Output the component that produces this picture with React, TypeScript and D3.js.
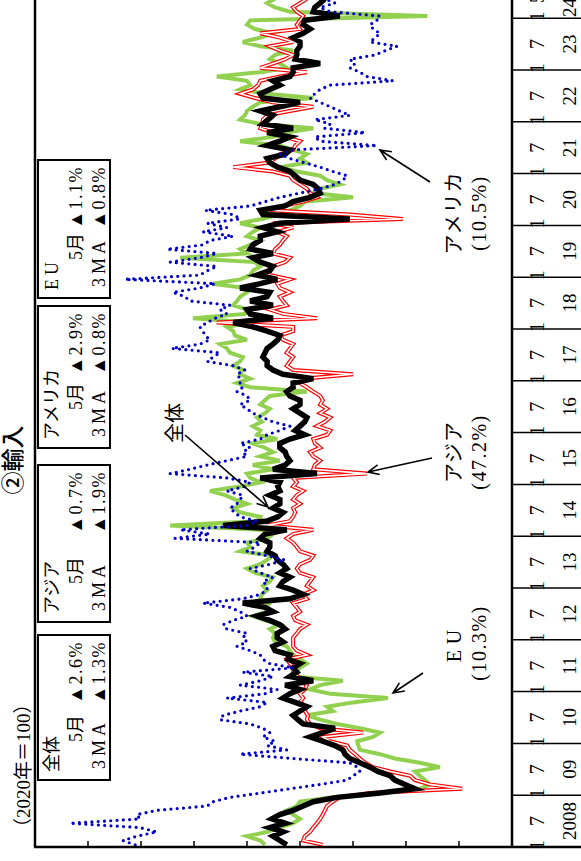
import React from "react";
import * as d3 from "d3";

// ---- data (2020 = 100), monthly from 2008-01 to 2024-05 ----
const yearLabels = ["2008","09","10","11","12","13","14","15","16","17","18","19","20","21","22","23","24"];
const monthLabels = ["1", "7"];
const lastYearMonthLabels = ["1", "5"];
const valueTicks = [70, 80, 90, 100, 110, 120, 130, 140];

const totalIdx = [
  102.5,103.8,105.1,103.2,105.7,102.8,105.3,103.8,101.3,99.4,97.5,93.0,
  84.9,78.3,80.2,82.1,83.0,85.3,86.8,88.7,90.6,91.5,91.9,93.4,
  95.7,98.1,95.7,93.4,99.4,100.4,101.3,100.0,98.7,100.9,103.2,101.9,
  100.0,102.8,97.5,101.9,100.6,101.3,100.0,102.3,101.9,104.7,105.1,103.2,
  104.3,104.3,102.8,103.8,105.7,108.1,105.1,106.6,110.8,101.9,99.4,101.3,
  103.8,103.2,101.9,103.8,102.5,103.2,104.3,104.7,106.2,105.7,105.7,107.5,
  106.6,102.5,114.5,106.2,104.2,103.2,105.1,103.8,103.8,105.7,103.8,104.2,
  103.8,107.5,96.8,105.1,102.8,101.9,102.5,102.8,103.8,103.8,101.9,99.1,
  100.9,100.0,99.1,98.7,100.0,101.3,100.0,100.0,101.9,102.5,101.3,101.3,
  97.5,103.2,105.1,106.2,106.2,107.0,106.6,106.2,105.1,104.2,103.8,106.2,
  108.9,112.6,105.1,109.4,110.0,105.1,109.4,106.2,105.7,111.3,107.5,104.3,
  108.1,105.7,105.1,107.5,108.9,105.1,109.4,108.9,107.5,107.5,104.3,107.0,
  103.8,90.6,107.0,107.5,102.8,101.3,98.1,96.2,96.6,97.5,100.0,100.9,
  101.9,104.2,105.7,106.2,102.8,101.9,106.2,103.8,101.9,106.2,101.3,107.0,
  106.0,105.1,107.5,103.8,100.0,107.0,107.5,105.7,103.8,105.1,101.9,101.3,
  101.3,96.2,100.9,100.6,100.6,100.0,100.0,101.3,99.4,98.1,99.4,99.1,
  92.5,97.5,97.2,96.2,95.3,
];

const asiaIdx = [
  95.7,99.4,99.1,98.1,97.5,96.8,96.2,95.7,95.3,94.9,93.8,92.5,
  86.8,69.4,75.5,78.3,79.2,83.0,86.2,87.7,88.7,89.6,90.6,91.1,
  94.3,95.7,88.1,96.2,98.1,98.7,98.5,99.1,98.7,100.0,99.4,100.0,
  99.1,98.7,100.0,100.4,101.3,100.9,101.9,102.5,98.7,100.6,101.3,101.3,
  101.3,100.6,100.0,98.7,100.9,101.3,100.0,100.6,101.3,98.7,99.4,97.5,
  98.7,98.1,97.5,100.0,100.6,100.0,98.1,97.5,100.0,100.6,101.3,102.5,
  101.3,97.5,106.2,101.9,101.3,100.9,101.3,100.0,101.3,100.6,99.4,101.3,
  100.6,101.3,87.4,97.5,97.2,96.2,97.5,98.1,96.2,97.2,97.5,94.9,
  94.3,96.8,95.3,94.3,96.2,94.9,96.2,95.7,96.2,97.5,98.7,100.0,
  99.4,90.0,101.3,102.5,101.9,101.3,102.5,101.9,101.3,103.2,103.8,101.3,
  101.3,115.7,96.8,103.2,105.7,102.5,103.2,103.8,101.9,103.8,104.3,101.9,
  105.7,106.2,105.1,102.8,101.9,105.1,104.7,103.8,103.2,102.5,104.3,101.3,
  105.1,80.6,90.6,105.7,103.2,99.4,96.8,98.1,98.7,100.0,101.3,101.9,
  105.1,112.6,106.2,104.7,103.8,101.3,100.9,100.0,102.8,105.1,107.5,107.2,
  107.0,106.2,101.9,97.5,105.1,108.5,111.3,108.9,107.9,107.5,103.8,98.7,
  107.5,105.1,102.8,101.3,103.8,105.7,101.3,103.8,107.5,100.0,100.6,100.0,
  99.4,100.6,101.3,100.0,98.7,
];

const usIdx = [
  131.1,133.4,130.8,127.0,130.2,143.4,130.2,130.8,127.0,117.5,116.4,113.2,
  107.5,101.9,96.2,91.1,90.0,88.7,89.2,90.6,101.3,111.3,102.5,106.2,
  104.7,107.0,105.7,107.0,109.4,115.1,114.5,111.3,107.5,106.2,113.8,106.6,
  104.3,111.3,107.5,105.1,110.8,101.3,105.7,107.0,107.5,109.4,111.9,110.0,
  110.8,110.0,113.8,114.5,112.6,110.0,111.3,113.2,118.3,110.8,107.5,106.2,
  106.2,107.0,105.1,107.5,109.4,105.7,102.8,106.2,110.0,108.5,107.5,123.6,
  117.0,122.6,110.0,108.1,111.3,112.3,113.2,111.9,111.3,110.8,113.8,110.4,
  109.4,113.8,124.5,120.8,117.5,113.8,110.0,110.8,109.4,111.3,107.5,106.2,
  103.8,101.9,105.1,107.0,108.9,110.0,111.3,109.4,110.0,111.9,110.8,111.3,
  111.3,111.9,110.4,112.6,117.5,116.4,115.1,124.2,118.9,117.0,117.9,118.3,
  118.9,117.5,116.0,113.8,115.1,113.2,120.8,121.7,124.0,118.9,116.0,133.0,
  118.9,117.5,115.7,124.5,118.9,115.7,125.1,118.3,117.0,112.6,118.3,113.8,
  117.5,111.3,112.6,117.9,109.4,106.6,103.8,100.0,96.2,93.4,91.9,91.1,
  93.8,96.2,99.1,101.9,103.8,101.3,85.5,96.2,97.2,87.7,95.3,94.3,
  97.2,90.6,92.5,94.3,96.2,98.1,97.2,96.2,94.3,82.5,87.4,88.7,
  90.6,89.6,90.6,85.8,83.9,81.7,86.8,85.8,84.9,86.2,86.8,85.5,
  84.9,94.3,96.2,93.4,95.3,
];

const euIdx = [
  106.6,107.5,110.0,106.2,103.8,101.3,100.0,101.3,102.5,100.6,100.0,93.8,
  84.9,77.4,75.5,76.4,77.4,78.3,73.6,77.4,82.1,84.9,88.7,89.0,
  89.2,86.2,84.9,88.7,93.0,96.2,98.7,93.8,94.9,90.0,83.4,94.3,
  98.1,96.2,91.9,101.3,100.9,100.0,98.7,100.0,101.3,101.9,102.5,104.7,
  105.1,104.7,105.7,103.8,106.6,108.9,106.2,106.6,105.7,107.5,107.2,106.2,
  107.0,105.7,105.1,108.5,110.0,107.5,106.2,105.1,111.3,109.4,110.0,106.2,
  105.1,107.5,124.5,108.1,107.5,111.3,112.6,110.0,112.3,114.1,117.0,111.3,
  107.5,109.4,110.0,105.1,108.9,103.8,107.5,105.1,106.6,108.9,104.3,108.1,
  107.5,108.9,107.2,108.1,106.6,105.7,107.5,106.6,105.7,98.7,109.4,111.9,
  109.4,111.3,110.8,112.6,111.3,110.8,113.2,113.8,115.1,110.0,112.3,112.6,
  113.8,108.9,120.2,110.4,110.0,112.6,111.9,111.3,110.0,110.4,116.4,111.3,
  109.4,108.9,107.5,108.5,122.6,110.0,111.3,109.4,107.5,110.0,108.9,107.5,
  111.3,107.2,103.8,101.9,100.0,99.1,90.0,97.5,96.2,92.5,94.9,96.2,
  100.6,103.8,98.7,100.0,98.7,101.3,103.8,111.3,105.1,102.5,97.5,107.5,
  111.3,110.4,110.0,108.9,107.5,97.5,106.2,111.3,109.4,110.0,115.7,107.5,
  102.5,103.8,105.7,104.7,101.3,107.5,110.8,107.5,105.1,108.5,110.0,109.4,
  76.0,101.9,104.7,106.2,104.7,
];

const boxNames = ["全体", "アジア", "アメリカ", "EU"];
const boxMay = ["▲2.6%", "▲0.7%", "▲2.9%", "▲1.1%"];
const box3MA = ["▲1.3%", "▲1.9%", "▲0.8%", "▲0.8%"];

const calloutNames = ["EU", "アジア", "アメリカ"];
const calloutShares = ["(10.3%)", "(47.2%)", "(10.5%)"];

const SERIF = "'Liberation Serif', 'DejaVu Serif', 'Noto Sans CJK JP', serif";
const JP = "'Noto Sans CJK JP', sans-serif";

function arrowPath(x1: number, y1: number, x2: number, y2: number) {
  const a = Math.atan2(y2 - y1, x2 - x1);
  const L = 12, s = 0.42;
  return `M${x1},${y1}L${x2},${y2}` +
    `M${x2 - L * Math.cos(a - s)},${y2 - L * Math.sin(a - s)}L${x2},${y2}` +
    `L${x2 - L * Math.cos(a + s)},${y2 - L * Math.sin(a + s)}`;
}

export default function App() {
  // Chart is drawn in its own upright frame (861 wide x 581 tall), then rotated -90deg.
  const W = 861, H = 581;
  const left = 14, top = 35, bottom = 512;
  const yearW = 51.8;
  const nMonths = totalIdx.length;
  const x = d3.scaleLinear().domain([0, 12]).range([left, left + yearW]); // months since 2008-01
  const y = d3.scaleLinear().domain([60, 150]).range([bottom, top]);
  const line = d3.line<number>().x((_, i) => x(i + 0.5)).y((d) => y(d));

  const boxes: [number, number][] = [[81, 226], [239, 396], [413, 555], [563, 701]];
  const callouts = [
    { cx: 218, arrow: [188, 423, 168, 393] },
    { cx: 409, arrow: [403, 432, 389, 368] },
    { cx: 648, arrow: [679, 430, 711, 380] },
  ];

  return (
    <svg width={581} height={861} style={{ position: "absolute", left: 0, top: 0, background: "#fff" }}>
      <rect x={0} y={0} width={581} height={861} fill="#fff" />
      <g transform="translate(0,861) rotate(-90)">
        <defs>
          <clipPath id="plotClip">
            <rect x={left} y={top} width={W - left + 20} height={bottom - top} />
          </clipPath>
        </defs>

        {/* series */}
        <g clipPath="url(#plotClip)" fill="none">
          <path d={line(euIdx) || ""} stroke="#92D050" strokeWidth={4} />
          <path d={line(asiaIdx) || ""} stroke="#FF0000" strokeWidth={4} />
          <path d={line(asiaIdx) || ""} stroke="#FFFFFF" strokeWidth={1.6} />
          <path d={line(totalIdx) || ""} stroke="#000000" strokeWidth={5.5} />
          <path d={line(usIdx) || ""} stroke="#0000CC" strokeWidth={3.2} strokeDasharray="0 6.3" strokeLinecap="round" />
        </g>

        {/* frame */}
        <line x1={left} x2={W + 20} y1={top} y2={top} stroke="#000" strokeWidth={2.5} />
        <line x1={left} x2={W + 20} y1={bottom} y2={bottom} stroke="#000" strokeWidth={2.5} />
        <line x1={left} x2={left} y1={top - 1} y2={H} stroke="#000" strokeWidth={2.5} />

        {/* value ticks */}
        {valueTicks.map((v) => (
          <line key={v} x1={left} x2={left + 6} y1={y(v)} y2={y(v)} stroke="#000" strokeWidth={1.5} />
        ))}

        {/* time axis */}
        {yearLabels.map((lab, k) => {
          const isLast = k === yearLabels.length - 1;
          const mLabs = isLast ? lastYearMonthLabels : monthLabels;
          const mOff = isLast ? [0, 4] : [0, 6];
          const endM = Math.min(12 * k + 12, nMonths);
          return (
            <g key={lab}>
              {k > 0 && <line x1={x(12 * k)} x2={x(12 * k)} y1={bottom} y2={H} stroke="#000" strokeWidth={1.5} />}
              {mLabs.map((m, j) => (
                <text key={m} x={x(12 * k + mOff[j]) + (j === 0 ? 2 : isLast ? 3 : 0)} y={544} textAnchor="middle"
                  fontFamily={SERIF} fontSize={20} fill="#000">{m}</text>
              ))}
              <text x={(x(12 * k) + x(endM)) / 2} y={576} textAnchor="middle" fontFamily={SERIF} fontSize={19} fill="#000">{lab}</text>
            </g>
          );
        })}

        {/* title and unit */}
        <text x={401} y={21} textAnchor="middle" fontFamily={JP} fontSize={23} fontWeight={500} fill="#000">②輸入</text>
        <text x={24} y={30} fontFamily={SERIF} fontSize={19} fill="#000">（2020年＝100）</text>

        {/* legend boxes */}
        {boxes.map(([u1, u2], i) => (
          <g key={i}>
            <rect x={u1} y={38} width={u2 - u1} height={72} fill="#fff" stroke="#000" strokeWidth={2} />
            <text x={u1 + 8} y={58} fontFamily={SERIF} fontSize={18} letterSpacing={i === 3 ? 4 : 0} fill="#000">{boxNames[i]}</text>
            <text x={u1 + 38} y={82} fontFamily={SERIF} fontSize={18} fill="#000">5月</text>
            <text x={u2 - 6} y={82} textAnchor="end" fontFamily={SERIF} fontSize={18} letterSpacing={1.5} fill="#000">{boxMay[i]}</text>
            <text x={u1 + 11} y={105} fontFamily={SERIF} fontSize={18} letterSpacing={4} fill="#000">3MA</text>
            <text x={u2 - 6} y={105} textAnchor="end" fontFamily={SERIF} fontSize={18} letterSpacing={1.5} fill="#000">{box3MA[i]}</text>
          </g>
        ))}

        {/* callouts */}
        {callouts.map((c, i) => (
          <g key={i}>
            <text x={c.cx} y={461} textAnchor="middle" fontFamily={SERIF} fontSize={20}
              letterSpacing={i === 0 ? 6 : 1} fill="#000">{calloutNames[i]}</text>
            <text x={c.cx} y={486} textAnchor="middle" fontFamily={SERIF} fontSize={20} letterSpacing={1.5} fill="#000">{calloutShares[i]}</text>
            <path d={arrowPath(c.arrow[0], c.arrow[1], c.arrow[2], c.arrow[3])} fill="none" stroke="#000" strokeWidth={1.6} />
          </g>
        ))}
        <text x={438} y={182} textAnchor="middle" fontFamily={SERIF} fontSize={20} fill="#000">全体</text>
        <path d={arrowPath(426, 185, 354, 268)} fill="none" stroke="#000" strokeWidth={1.6} />
      </g>
    </svg>
  );
}
